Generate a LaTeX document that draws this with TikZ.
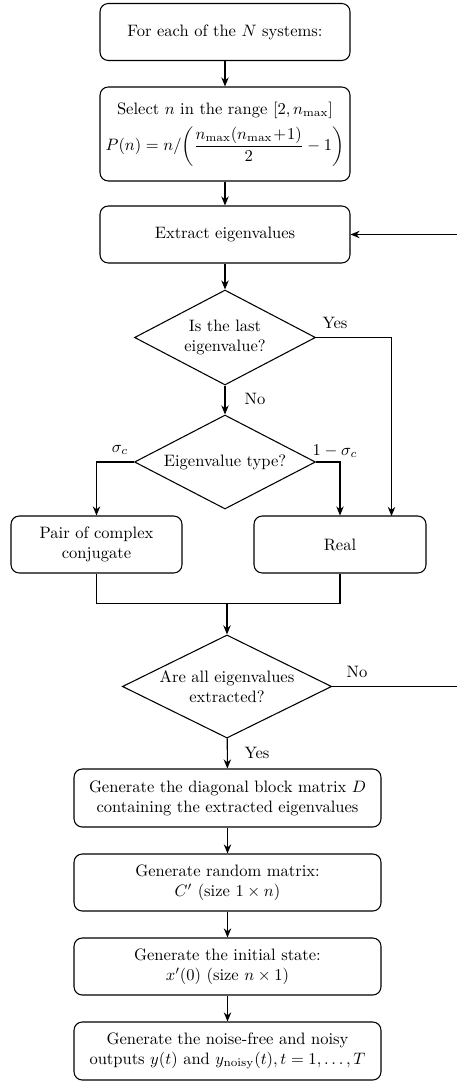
\documentclass[tikz,border=0pt]{standalone}
\usepackage{amsmath}
\usetikzlibrary{shapes.geometric,arrows.meta}
\begin{document}
\def\u{0.605pt}
\begin{tikzpicture}[x=\u,y=-\u,
  proc/.style={draw,rounded corners=5pt,align=center,inner sep=2pt,line width=0.65pt},
  dec/.style={draw,diamond,align=center,inner sep=1pt,line width=0.65pt},
  arr/.style={-{Stealth[length=5.5pt,width=4.5pt]},line width=0.65pt},
  ln/.style={line width=0.65pt},
  lbl/.style={inner sep=0pt}]
\useasboundingbox (0,0) rectangle (457,1083);
\node[proc,minimum width=250*\u,minimum height=57*\u] (b1) at (225,32) {For each of the $N$ systems:};
\node[proc,minimum width=250*\u,minimum height=94*\u] (b2) at (225,134) {Select $n$ in the range $[2,n_{\max}]$\\[4pt]
  $P(n)=n/\!\left(\dfrac{n_{\max}(n_{\max}\!+\!1)}{2}-1\right)$};
\node[proc,minimum width=250*\u,minimum height=57*\u] (b3) at (225,234.5) {Extract eigenvalues};
\node[dec,aspect=1.9,minimum width=181*\u,minimum height=95*\u] (d1) at (225,337.5) {Is the last\\eigenvalue?};
\node[dec,aspect=1.9,minimum width=181*\u,minimum height=94*\u] (d2) at (225,462) {Eigenvalue type?};
\node[proc,minimum width=171*\u,minimum height=57*\u] (pc) at (96.5,544.5) {Pair of complex\\conjugate};
\node[proc,minimum width=172*\u,minimum height=57*\u] (re) at (340,544.5) {Real};
\node[dec,aspect=2.03,minimum width=209*\u,minimum height=103*\u] (d3) at (227,686.5) {Are all eigenvalues\\extracted?};
\node[proc,minimum width=307*\u,minimum height=58*\u] (g1) at (227.5,798) {Generate the diagonal block matrix $D$\\containing the extracted eigenvalues};
\node[proc,minimum width=307*\u,minimum height=57*\u] (g2) at (227.5,882.5) {Generate random matrix:\\$C'$ (size $1\times n$)};
\node[proc,minimum width=307*\u,minimum height=57*\u] (g3) at (227.5,966.5) {Generate the initial state:\\$x'(0)$ (size $n\times 1$)};
\node[proc,minimum width=307*\u,minimum height=58*\u] (g4) at (227.5,1051) {Generate the noise-free and noisy\\outputs $y(t)$ and $y_{\mathrm{noisy}}(t),t=1,\ldots,T$};

\coordinate (m1) at (96.5,603.5);
\coordinate (m2) at (340,603.5);
\coordinate (mm) at (227,603.5);
\coordinate (e1) at (457,234.5);
\coordinate (e2) at (457,686.5);
\coordinate (yr) at (391.5,516);

\draw[arr] (b1) -- (b2);
\draw[arr] (b2) -- (b3);
\draw[arr] (b3) -- (d1);
\draw[arr] (d1) -- (d2);
\draw[arr] (d1.east) -| (yr);
\draw[arr] (d2.west) -| (pc.north);
\draw[arr] (d2.east) -| (re.north);
\draw[ln] (pc.south) -- (m1) -- (m2) -- (re.south);
\draw[arr] (mm) -- (d3.north);
\draw[ln] (d3.east) -- (e2);
\draw[arr] (e1) -- (b3.east);
\draw[arr] (d3) -- (g1);
\draw[arr] (g1) -- (g2);
\draw[arr] (g2) -- (g3);
\draw[arr] (g3) -- (g4);

\node[lbl] (ly1) at (335,323) {Yes};
\node[lbl] (ln1) at (255,399) {No};
\node[lbl] (ls1) at (120,450) {$\sigma_c$};
\node[lbl] (ls2) at (335,451) {$1-\sigma_c$};
\node[lbl] (ln2) at (357,672) {No};
\node[lbl] (ly2) at (257,753) {Yes};
\end{tikzpicture}
\end{document}
